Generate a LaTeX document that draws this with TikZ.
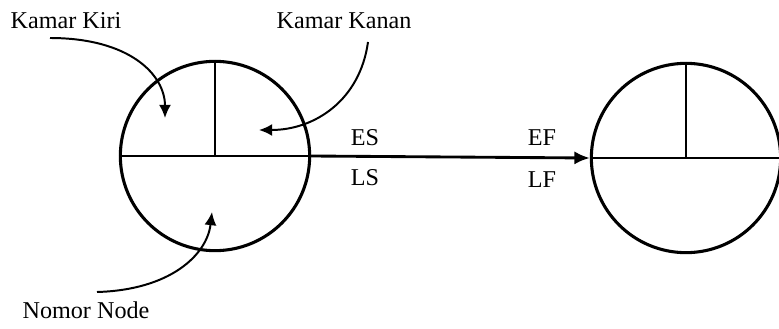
\documentclass[tikz,border=0pt]{standalone}
\usepackage{fontspec}
\setmainfont{Liberation Serif}
\usetikzlibrary{arrows.meta}

\tikzset{
  kejadian/.style={circle, draw, line width=1.4pt, minimum size=3.03cm, inner sep=0pt},
  sekat/.style={line width=0.9pt},
  penunjuk/.style={line width=0.9pt, -{Latex[length=6pt, width=5.5pt]}},
  label/.style={font=\fontsize{11}{13}\selectfont, inner sep=1pt}
}

\begin{document}
\begin{tikzpicture}[x=0.016cm, y=-0.016cm]
  \useasboundingbox (0,0) rectangle (779,329);

  % ---------- node kiri dan kanan ----------
  \node[kejadian] (n1) at (215,156) {};
  \node[kejadian] (n2) at (686,158) {};

  % sekat dalam lingkaran
  \draw[sekat] (n1.west) -- (n1.east);
  \draw[sekat] (n1.north) -- (n1.center);
  \draw[sekat] (n2.west) -- (n2.east);
  \draw[sekat] (n2.north) -- (n2.center);

  % ---------- kegiatan ----------
  \draw[line width=1.3pt, -{Latex[length=7pt, width=6pt]}] (n1.east) -- (n2.west);
  \node[label] (es) at (365,138) {ES};
  \node[label] (ls) at (365,178) {LS};
  \node[label] (ef) at (542,138) {EF};
  \node[label] (lf) at (542,180) {LF};

  % ---------- keterangan ----------
  \node[label] (kiri) at (66,21) {Kamar Kiri};
  \node[label] (kanan) at (344,21) {Kamar Kanan};
  \node[label] (nomor) at (86,310) {Nomor Node};

  \coordinate (kiri-a) at (50,38);
  \coordinate (kiri-b) at (165,118);
  \coordinate (kanan-a) at (368,42);
  \coordinate (kanan-b) at (259,130);
  \coordinate (nomor-a) at (97,292);
  \coordinate (nomor-b) at (212,212);

  \draw[penunjuk] (kiri-a) .. controls (130,38) and (165,75) .. (kiri-b);
  \draw[penunjuk] (kanan-a) .. controls (360,100) and (315,130) .. (kanan-b);
  \draw[penunjuk] (nomor-a) .. controls (170,290) and (207,255) .. (nomor-b);
\end{tikzpicture}
\end{document}
